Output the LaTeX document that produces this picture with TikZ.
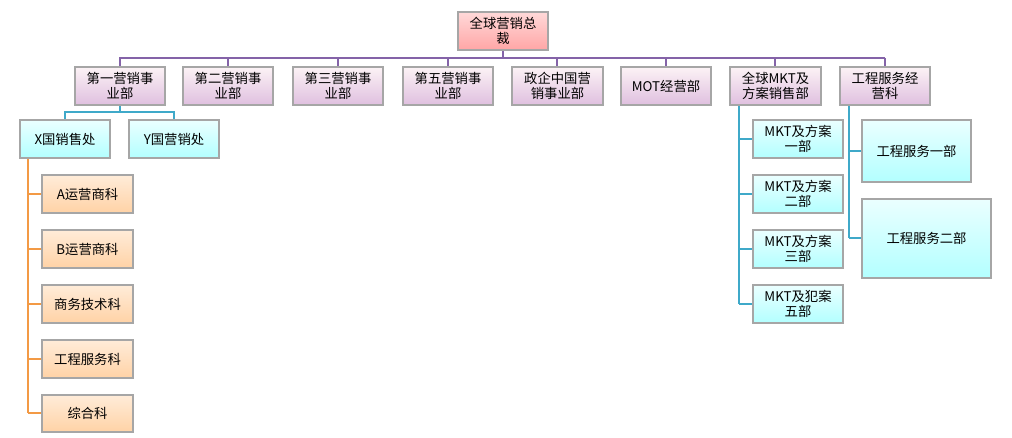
\documentclass[tikz,border=0pt]{standalone}
\usepackage{fontspec}
\setmainfont{Noto Sans CJK SC}
\usetikzlibrary{shadows}
\definecolor{pline}{HTML}{8463A8}
\definecolor{cline}{HTML}{3FA9C9}
\definecolor{oline}{HTML}{F39A45}
\begin{document}
\begin{tikzpicture}[x=0.75pt,y=-0.75pt,
 bx/.style={draw=gray!70,line width=0.8pt,drop shadow={shadow xshift=1pt,shadow yshift=-1pt,opacity=0.3},align=center,font=\fontsize{10}{11}\selectfont,inner sep=0pt},
 pbox/.style={bx,top color=purple!5!white,bottom color=violet!25!white},
 rbox/.style={bx,top color=red!15!white,bottom color=red!35!white},
 cbox/.style={bx,top color=cyan!8!white,bottom color=cyan!30!white},
 obox/.style={bx,top color=orange!15!white,bottom color=orange!35!white},
 pl/.style={pline,line width=2.2pt},
 cl/.style={cline,line width=2.2pt},
 ol/.style={oline,line width=2.2pt}]
\useasboundingbox (0,0) rectangle (1012,438);
\newcommand{\bx}[6]{\node[#1,minimum width=#4*0.75pt-#2*0.75pt,minimum height=#5*0.75pt-#3*0.75pt] (#6) at ({(#2+#4)/2},{(#3+#5)/2})}
% connectors
\coordinate (bus) at (0,58);
\draw[pl] (120,67) |- (885,58);
\draw[pl] (503,50) -- (503,58);
\foreach \x in {228,338,448,557,666,775,885} \draw[pl] (\x,58) -- (\x,67);
\draw[cl] (65,120) |- (174,112) -- (174,120);
\draw[cl] (120,105) -- (120,112);
\draw[ol] (28,158) -- (28,413);
\foreach \y in {194,249,304,359,413} \draw[ol] (28,\y) -- (42,\y);
\draw[cl] (739,105) -- (739,304);
\foreach \y in {139,194,249,304} \draw[cl] (739,\y) -- (753,\y);
\draw[cl] (849,105) -- (849,238);
\foreach \y in {151,238} \draw[cl] (849,\y) -- (862,\y);
% nodes
\bx{rbox}{458}{12}{548}{50}{top} {全球营销总\\裁};
\bx{pbox}{75}{67}{165}{105}{d1} {第一营销事\\业部};
\bx{pbox}{183}{67}{273}{105}{d2} {第二营销事\\业部};
\bx{pbox}{293}{67}{383}{105}{d3} {第三营销事\\业部};
\bx{pbox}{403}{67}{493}{105}{d5} {第五营销事\\业部};
\bx{pbox}{512}{67}{603}{105}{dz} {政企中国营\\销事业部};
\bx{pbox}{621}{67}{711}{105}{dm} {MOT经营部};
\bx{pbox}{730}{67}{821}{105}{dk} {全球MKT及\\方案销售部};
\bx{pbox}{840}{67}{930}{105}{dg} {工程服务经\\营科};
\bx{cbox}{20}{120}{110}{158}{xg} {X国销售处};
\bx{cbox}{129}{120}{219}{158}{yg} {Y国营销处};
\bx{obox}{42}{175}{133}{213}{o1} {A运营商科};
\bx{obox}{42}{230}{133}{268}{o2} {B运营商科};
\bx{obox}{42}{285}{133}{323}{o3} {商务技术科};
\bx{obox}{42}{340}{133}{378}{o4} {工程服务科};
\bx{obox}{42}{395}{133}{432}{o5} {综合科};
\bx{cbox}{753}{120}{843}{158}{m1} {MKT及方案\\一部};
\bx{cbox}{753}{175}{843}{213}{m2} {MKT及方案\\二部};
\bx{cbox}{753}{230}{843}{268}{m3} {MKT及方案\\三部};
\bx{cbox}{753}{285}{843}{323}{m5} {MKT及犯案\\五部};
\bx{cbox}{862}{120}{971}{182}{g1} {工程服务一部};
\bx{cbox}{862}{199}{991}{278}{g2} {工程服务二部};
\end{tikzpicture}
\end{document}
